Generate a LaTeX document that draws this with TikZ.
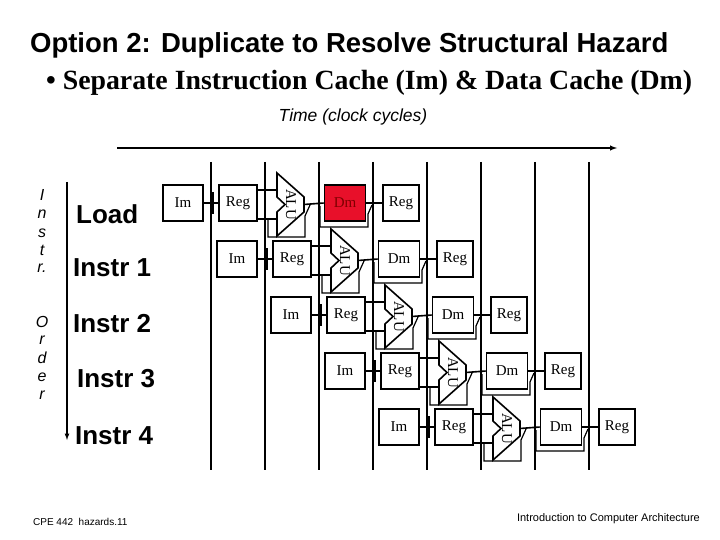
\documentclass[tikz,border=0pt]{standalone}
\usepackage{fontspec}
\setmainfont{Liberation Serif}
\setsansfont{Liberation Sans}
\definecolor{hazred}{HTML}{E8102A}
\begin{document}
\begin{tikzpicture}[x=1pt,y=-1pt,line width=1.6pt,
  stagebox/.style={draw,minimum height=36pt,inner sep=0pt,font=\fontsize{15}{15}\selectfont},
  lbl/.style={font=\sffamily\bfseries\fontsize{26}{26}\selectfont,anchor=west},
  ord/.style={font=\sffamily\itshape\fontsize{16}{16}\selectfont}]
\useasboundingbox (0,0) rectangle (720,540);
\node[font=\sffamily\bfseries\fontsize{27.5}{27.5}\selectfont,anchor=west] (title) at (26,45) {Option 2: Duplicate to Resolve Structural Hazard};
\node[font=\bfseries\fontsize{27.8}{27.8}\selectfont,anchor=west] (sub) at (42,83) {\textbullet\ Separate Instruction Cache (Im) \& Data Cache (Dm)};
\node[font=\sffamily\itshape\fontsize{17.5}{17.5}\selectfont] (time) at (353,117) {Time (clock cycles)};
\coordinate (ta) at (117,148); \coordinate (tb) at (617,148);
\draw[-latex,line width=1.4pt] (ta) -- (tb);
\foreach \k in {0,...,7}{
  \coordinate (vt\k) at (211+54*\k,162); \coordinate (vb\k) at (211+54*\k,470);
  \draw[line width=1.4pt] (vt\k) -- (vb\k);}
% instruction order axis
\coordinate (oa) at (67,182); \coordinate (ob) at (67,440);
\draw[-latex,line width=1.2pt] (oa) -- (ob);
\foreach \c/\y in {I/195,n/214,s/233,t/250,r./268,O/322,r/340,d/358,e/377,r/395}
  \node[ord] at (42,\y) {\c};
\node[lbl] (l0) at (72,214) {Load};
\node[lbl] (l1) at (69,268) {Instr 1};
\node[lbl] (l2) at (69,324) {Instr 2};
\node[lbl] (l3) at (73,379) {Instr 3};
\node[lbl] (l4) at (71,436) {Instr 4};
% pipeline rows
\foreach \i in {0,...,4}{
 \begin{scope}[shift={(54*\i,56*\i)}]
  \node[stagebox,minimum width=40pt] (im\i) at (183,203) {Im};
  \node[stagebox,minimum width=38pt] (ra\i) at (238,203) {Reg};
  \ifnum\i=0
   \node[stagebox,minimum width=41pt,fill=hazred,text=red!50!black] (dm\i) at (345,203) {Dm};
  \else
   \node[stagebox,minimum width=41pt] (dm\i) at (345,203) {Dm};
  \fi
  \node[stagebox,minimum width=36pt] (rb\i) at (401,203) {Reg};
  \draw[fill=white] (277,173) -- (304,197) -- (304,212) -- (277,236) -- (277,212) -- (285,204.5) -- (277,197) -- cycle;
  \node[font=\fontsize{15}{15}\selectfont,rotate=-90] (alu\i) at (291,204.5) {ALU};
  \coordinate (ai\i) at (277,190); \coordinate (aj\i) at (277,219);
  \coordinate (ao\i) at (304,204.5);
  \draw (im\i.east) -- (ra\i.west);
  \draw (213,192) -- (213,214);
  \draw (ra\i.east |- ai\i) -- (ai\i);
  \draw (ra\i.east |- aj\i) -- (aj\i);
  \draw (ao\i) -- (dm\i.west);
  \draw (dm\i.east) -- (rb\i.west);
  \draw[line width=1.2pt] (268,219) -- (268,237) -- (305,237) -- (305,216) -- (310,205);
  \draw[line width=1.2pt] (320,206) -- (320,227) -- (368,227) -- (368,214) -- (372,205);
 \end{scope}}
\node[font=\sffamily\fontsize{10}{10}\selectfont,anchor=west] (foot1) at (29,522) {CPE 442\ \ hazards.11};
\node[font=\sffamily\fontsize{11}{11}\selectfont,anchor=east] (foot2) at (704,519) {Introduction to Computer Architecture};
\end{tikzpicture}
\end{document}
